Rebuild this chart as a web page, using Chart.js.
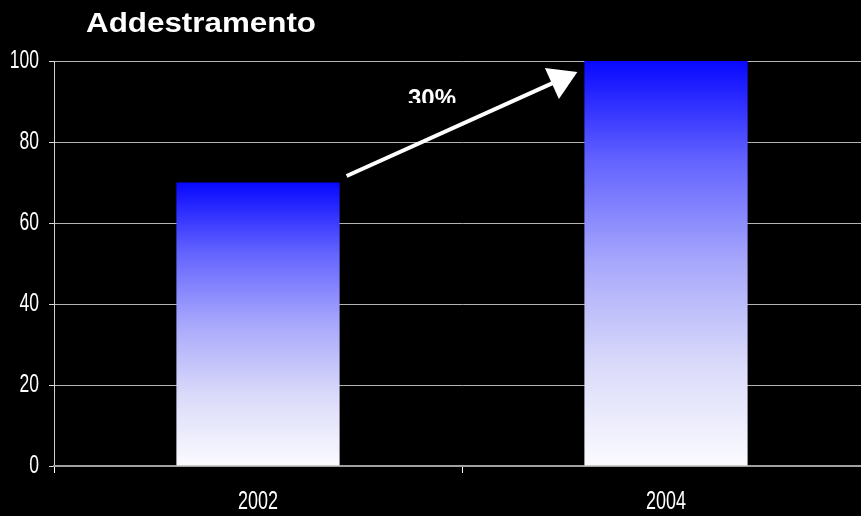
<!DOCTYPE html>
<html>
<head>
<meta charset="utf-8">
<title>Addestramento</title>
<script src="https://cdn.jsdelivr.net/npm/chart.js@4/dist/chart.umd.min.js"></script>
<style>
  html, body { margin: 0; padding: 0; background: #000; }
  #wrap { width: 861px; height: 516px; overflow: hidden; }
  /* l'area del grafico continua oltre il bordo destro, come nell'originale */
  #inner { width: 870px; height: 516px; position: relative; }
</style>
</head>
<body>
<div id="wrap"><div id="inner"><canvas id="chart"></canvas></div></div>
<script>
// dati
const titolo = "Addestramento";
const anni = ["2002", "2004"];
const valori = [70, 100];
const yTicks = [0, 20, 40, 60, 80, 100];
const freccia = { da: 71.6, a: 97.3, etichetta: "30%" };

const sans = "'Liberation Sans', Arial, sans-serif";

// gradiente blu -> bianco per ogni barra
function barGradient(ctx) {
  const chart = ctx.chart;
  const y = chart.scales.y;
  if (!y || ctx.type !== "data") return "#2020ff";
  const top = y.getPixelForValue(ctx.raw);
  const bottom = y.getPixelForValue(0);
  if (!Number.isFinite(top) || !Number.isFinite(bottom) || top === bottom) return "#2020ff";
  const g = chart.ctx.createLinearGradient(0, top, 0, bottom);
  g.addColorStop(0, "#0808ff");
  g.addColorStop(0.25, "#6464ff");
  g.addColorStop(0.5, "#a8a8fc");
  g.addColorStop(0.75, "#dadafa");
  g.addColorStop(1, "#fbfbff");
  return g;
}

// testo con scala orizzontale (font condensato / allargato simulato)
function scaledText(c, txt, x, y, align, sx, baseline) {
  c.save();
  c.translate(x, y);
  c.scale(sx, 1);
  c.textAlign = align;
  c.textBaseline = baseline || "middle";
  c.fillText(txt, 0, 0);
  c.restore();
}

// titolo, etichette assi e freccia
const extras = {
  id: "extras",
  afterDatasetsDraw(chart) {
    const c = chart.ctx;
    const y = chart.scales.y;
    const x = chart.scales.x;
    const meta = chart.getDatasetMeta(0);
    const b1 = meta.data[0], b2 = meta.data[1];
    const x0 = b1.x + b1.width / 2 + 7;
    const y0 = y.getPixelForValue(freccia.da);
    const x1 = b2.x - b2.width / 2 - 7;
    const y1 = y.getPixelForValue(freccia.a);

    c.save();
    const ang = Math.atan2(y1 - y0, x1 - x0);
    const headLen = 28, headW = 17;
    const bx = x1 - headLen * Math.cos(ang);
    const by = y1 - headLen * Math.sin(ang);
    c.strokeStyle = "#fff";
    c.fillStyle = "#fff";
    c.lineWidth = 4;
    c.beginPath();
    c.moveTo(x0, y0);
    c.lineTo(bx + 2 * Math.cos(ang), by + 2 * Math.sin(ang));
    c.stroke();
    c.beginPath();
    c.moveTo(x1, y1);
    c.lineTo(bx + headW * Math.sin(ang), by - headW * Math.cos(ang));
    c.lineTo(bx - headW * Math.sin(ang), by + headW * Math.cos(ang));
    c.closePath();
    c.fill();

    // etichetta (tagliata in basso come nell'originale)
    const lx = (x0 + x1) / 2 - 30;
    const ly = y.getPixelForValue(93.6);
    c.beginPath();
    c.rect(lx - 40, ly - 5, 80, 21);
    c.clip();
    c.font = "bold 24px " + sans;
    c.textAlign = "center";
    c.textBaseline = "top";
    c.fillText(freccia.etichetta, lx, ly);
    c.restore();

    // etichette assi
    c.save();
    c.fillStyle = "#fff";
    c.font = "25px " + sans;
    y.ticks.forEach((t, i) => {
      scaledText(c, String(t.value), y.right - 15, y.getPixelForTick(i), "right", 0.7);
    });
    x.ticks.forEach((t, i) => {
      scaledText(c, anni[i], x.getPixelForTick(i), 502, "center", 0.72);
    });
    c.restore();

    // titolo
    c.save();
    c.fillStyle = "#fff";
    c.font = "bold 28px " + sans;
    scaledText(c, titolo, 86, 32, "left", 1.12, "alphabetic");
    c.restore();
  }
};

new Chart(document.getElementById("chart"), {
  type: "bar",
  data: {
    labels: anni,
    datasets: [{
      data: valori,
      backgroundColor: barGradient,
      borderWidth: 0,
      categoryPercentage: 0.8,
      barPercentage: 0.5
    }]
  },
  options: {
    responsive: true,
    maintainAspectRatio: false,
    animation: false,
    devicePixelRatio: 1,
    layout: { padding: { top: 61, right: 0, left: 0, bottom: 0 } },
    plugins: { legend: { display: false }, tooltip: { enabled: false }, title: { display: false } },
    scales: {
      y: {
        min: 0,
        max: 100,
        afterBuildTicks(axis) { axis.ticks = yTicks.map(v => ({ value: v })); },
        afterFit(axis) { axis.width = 54; },
        ticks: { color: "transparent", font: { family: sans, size: 20 } },
        grid: { color: "#b4b4b4", lineWidth: 1, tickLength: 5, tickColor: "#ddd" },
        border: { color: "#d0d0d0", width: 1 }
      },
      x: {
        afterFit(axis) { axis.height = 50; },
        ticks: { color: "transparent", font: { family: sans, size: 20 } },
        grid: { drawOnChartArea: false, color: "#fff", tickLength: 7, lineWidth: 1 },
        border: { color: "#a0a0a0", width: 2 }
      }
    }
  },
  plugins: [extras]
});
</script>
</body>
</html>
